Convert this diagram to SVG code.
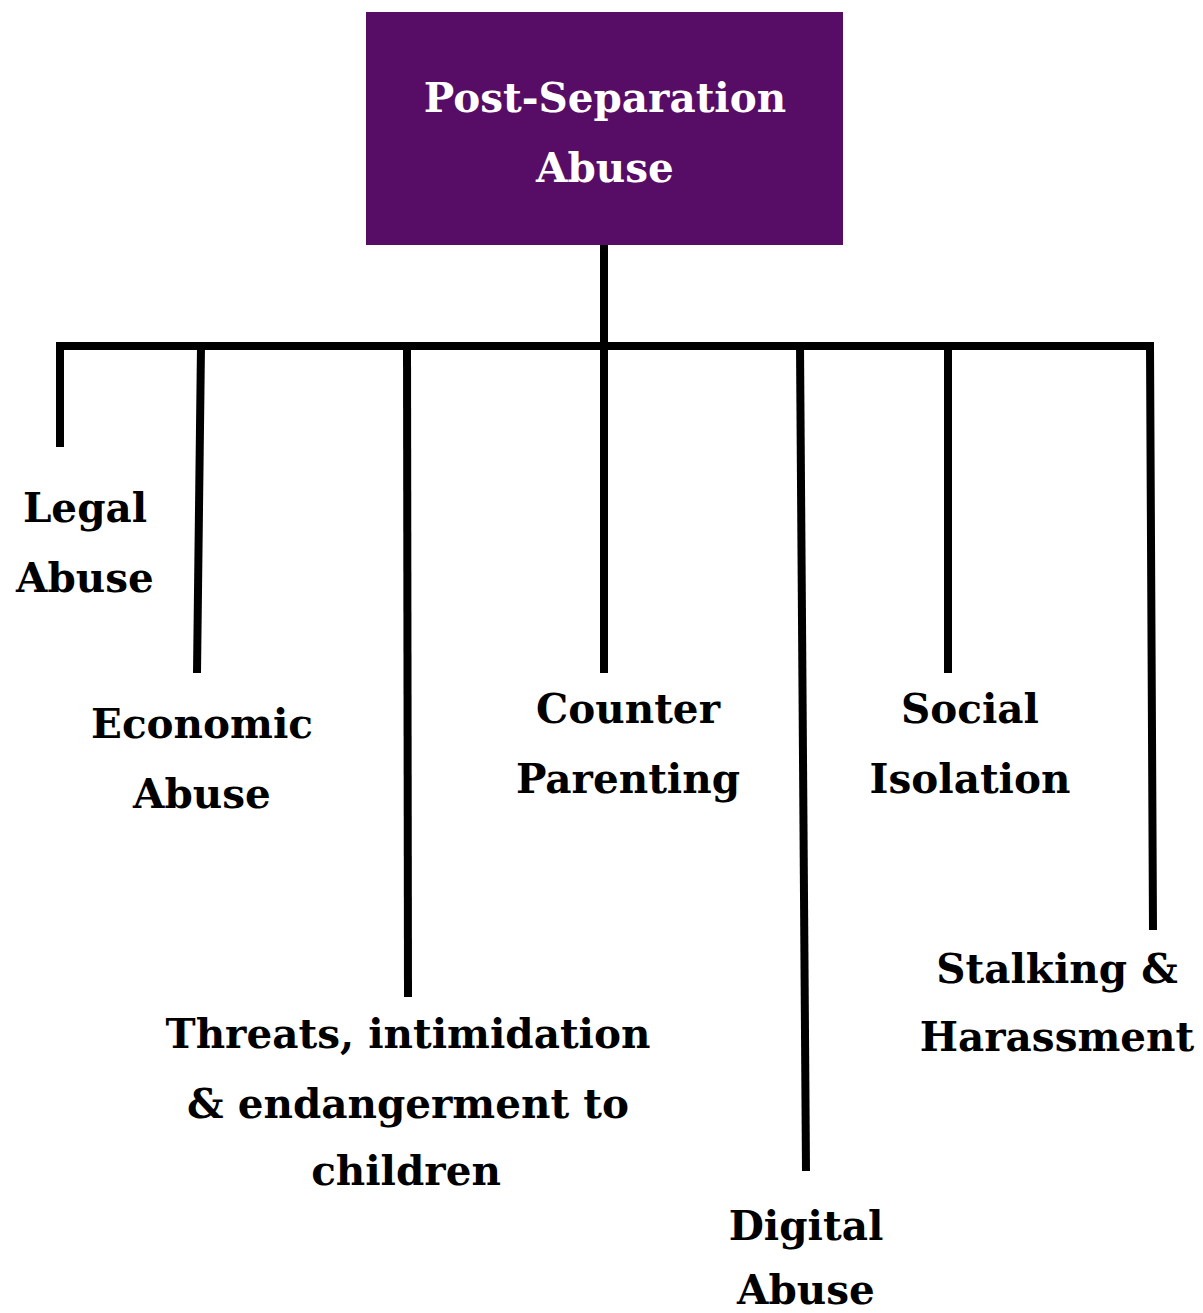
<svg xmlns="http://www.w3.org/2000/svg" width="1203" height="1313" viewBox="0 0 1203 1313">
  <style>
    .lbl { font-family: "DejaVu Serif", "Liberation Serif", serif; font-weight: bold; font-size: 40.5px; fill: #000; text-anchor: middle; }
    .title { fill: #fff; }
    .wire { fill: none; stroke: #000; stroke-width: 8; stroke-linecap: butt; stroke-linejoin: miter; }
  </style>
  <rect width="1203" height="1313" fill="#fff"/>

  <!-- connectors: stem, bus bar and drops -->
  <g id="connectors" class="wire">
    <path d="M604 245 V673"/>
    <path d="M60 447 V346 H1150 L1153 930"/>
    <path d="M201 346 L197 673"/>
    <path d="M407 346 L408 997"/>
    <path d="M800 346 L806 1171"/>
    <path d="M948 346 V673"/>
  </g>

  <g id="root">
    <rect x="366" y="12" width="477" height="233" fill="#570d66"/>
    <text class="lbl title" x="605" y="112">Post-Separation</text>
    <text class="lbl title" x="605" y="182">Abuse</text>
  </g>

  <g id="legal">
    <text class="lbl" x="85" y="522">Legal</text>
    <text class="lbl" x="85" y="592">Abuse</text>
  </g>

  <g id="economic">
    <text class="lbl" x="202" y="738">Economic</text>
    <text class="lbl" x="202" y="808">Abuse</text>
  </g>

  <g id="threats">
    <text class="lbl" x="408" y="1048">Threats, intimidation</text>
    <text class="lbl" x="408" y="1118">&amp; endangerment to</text>
    <text class="lbl" x="406" y="1185">children</text>
  </g>

  <g id="counter-parenting">
    <text class="lbl" x="628" y="723">Counter</text>
    <text class="lbl" x="628" y="793">Parenting</text>
  </g>

  <g id="digital">
    <text class="lbl" x="806" y="1240">Digital</text>
    <text class="lbl" x="806" y="1304">Abuse</text>
  </g>

  <g id="social">
    <text class="lbl" x="970" y="723">Social</text>
    <text class="lbl" x="970" y="793">Isolation</text>
  </g>

  <g id="stalking">
    <text class="lbl" x="1057" y="983">Stalking &amp;</text>
    <text class="lbl" x="1057" y="1051">Harassment</text>
  </g>
</svg>
